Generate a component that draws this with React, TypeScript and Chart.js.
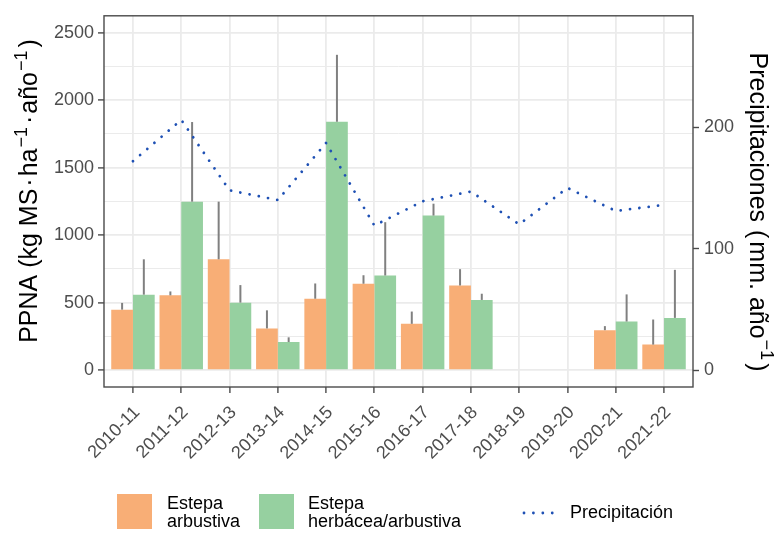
import { useEffect, useRef } from 'react';
import { Chart, registerables } from 'chart.js';

Chart.register(...registerables);

const FONT = "'Liberation Sans', Arial, Helvetica, sans-serif";

// Seasons on the x axis
const seasons = [
  '2010-11', '2011-12', '2012-13', '2013-14', '2014-15', '2015-16',
  '2016-17', '2017-18', '2018-19', '2019-20', '2020-21', '2021-22',
];

// PPNA (kg MS/ha/año): mean and upper error per season
const arbustiva = [448, 554, 821, 309, 529, 640, 343, 627, null, null, 296, 189];
const arbustivaErr = [50, 29, 427, 134, 113, 63, 91, 121, null, null, 30, 186];
const herbacea = [559, 1248, 500, 208, 1840, 701, 1145, 520, null, null, 360, 387];
const herbaceaErr = [262, 590, 130, 35, 496, 395, 88, 46, null, null, 201, 356];

// Annual precipitation (mm)
const precipitacion = [172, 206, 148, 140, 187, 119, 139, 147, 120, 150, 131, 136];

// Axis ticks
const ppnaTicks = [0, 250, 500, 750, 1000, 1250, 1500, 1750, 2000, 2250, 2500];
const precipTicks = [0, 100, 200];

const ORANGE = '#F8AE76';
const GREEN = '#96D0A0';
const BLUE = '#1E50B4';
const ERR = '#808080';
const GRID = '#EBEBEB';
const TICK_TEXT = '#4D4D4D';
const AXIS_LINE = '#4A4A4A';

// secondary axis: 1 mm of precipitation spans 9 PPNA units
const PPNA_MIN = -125;
const PPNA_MAX = 2625;
const FACTOR = 9;

type Part = { t: string; sup?: boolean; gap?: number };

function drawRich(ctx: CanvasRenderingContext2D, parts: Part[], size: number) {
  const base = `${size}px ${FONT}`;
  const small = `${Math.round(size * 0.72)}px ${FONT}`;
  const widths = parts.map((p) => {
    ctx.font = p.sup ? small : base;
    return ctx.measureText(p.t).width + (p.gap || 0);
  });
  const total = widths.reduce((a, b) => a + b, 0);
  let x = -total / 2;
  parts.forEach((p, i) => {
    ctx.font = p.sup ? small : base;
    ctx.fillText(p.t, x, p.sup ? -size * 0.42 : 0);
    x += widths[i];
  });
}

const errorBars = {
  id: 'errorBars',
  afterDatasetDraw(chart: any, args: any) {
    const meta = args.meta;
    if (meta.type !== 'bar') return;
    const errs = args.index === 0 ? arbustivaErr : herbaceaErr;
    const vals = args.index === 0 ? arbustiva : herbacea;
    const y = chart.scales.y;
    const ctx = chart.ctx;
    ctx.save();
    ctx.strokeStyle = ERR;
    ctx.lineWidth = 2;
    meta.data.forEach((bar: any, i: number) => {
      const v = vals[i];
      const e = errs[i];
      if (v == null || e == null) return;
      ctx.beginPath();
      ctx.moveTo(bar.x, y.getPixelForValue(v));
      ctx.lineTo(bar.x, y.getPixelForValue(v + e));
      ctx.stroke();
    });
    ctx.restore();
  },
};

const decorations = {
  id: 'decorations',
  afterDraw(chart: any) {
    const ctx: CanvasRenderingContext2D = chart.ctx;
    const a = chart.chartArea;
    ctx.save();

    // panel border
    ctx.strokeStyle = AXIS_LINE;
    ctx.lineWidth = 1.4;
    ctx.strokeRect(a.left, a.top, a.right - a.left, a.bottom - a.top);

    // axis titles
    ctx.fillStyle = '#000';
    ctx.textAlign = 'left';
    ctx.textBaseline = 'alphabetic';
    ctx.save();
    ctx.translate(37, 191);
    ctx.rotate(-Math.PI / 2);
    drawRich(ctx, [
      { t: 'PPNA (kg MS', gap: 2 }, { t: '·', gap: 2 }, { t: 'ha', gap: 1 }, { t: '−1', sup: true, gap: 3 },
      { t: '·', gap: 2 }, { t: 'año', gap: 1 }, { t: '−1', sup: true, gap: 3 }, { t: ')' },
    ], 25);
    ctx.restore();

    ctx.save();
    ctx.translate(750, 212);
    ctx.rotate(Math.PI / 2);
    drawRich(ctx, [
      { t: 'Precipitaciones ', gap: 1 }, { t: '(', gap: 3 }, { t: 'mm. año', gap: 1 },
      { t: '−1', sup: true, gap: 3 }, { t: ')' },
    ], 25);
    ctx.restore();

    // legend
    const lf = `18px ${FONT}`;
    ctx.fillStyle = ORANGE;
    ctx.fillRect(117, 494, 35, 35);
    ctx.fillStyle = GREEN;
    ctx.fillRect(259, 494, 35, 35);
    ctx.fillStyle = '#000';
    ctx.font = lf;
    ctx.fillText('Estepa', 167, 509);
    ctx.fillText('arbustiva', 167, 527);
    ctx.fillText('Estepa', 308, 509);
    ctx.fillText('herbácea/arbustiva', 308, 527);
    ctx.fillText('Precipitación', 570, 518);

    ctx.strokeStyle = BLUE;
    ctx.lineWidth = 2.8;
    ctx.lineCap = 'round';
    ctx.setLineDash([0.01, 9.4]);
    ctx.beginPath();
    ctx.moveTo(524, 513);
    ctx.lineTo(554, 513);
    ctx.stroke();

    ctx.restore();
  },
};

export default function App() {
  const ref = useRef<HTMLCanvasElement | null>(null);

  useEffect(() => {
    if (!ref.current) return;
    const chart = new Chart(ref.current, {
      type: 'bar',
      data: {
        datasets: [
          {
            type: 'bar',
            label: 'Estepa arbustiva',
            data: arbustiva.map((v, i) => ({ x: i, y: v })) as any,
            backgroundColor: ORANGE,
            borderWidth: 0,
            categoryPercentage: 0.9,
            barPercentage: 1,
            yAxisID: 'y',
            order: 1,
          },
          {
            type: 'bar',
            label: 'Estepa herbácea/arbustiva',
            data: herbacea.map((v, i) => ({ x: i, y: v })) as any,
            backgroundColor: GREEN,
            borderWidth: 0,
            categoryPercentage: 0.9,
            barPercentage: 1,
            yAxisID: 'y',
            order: 1,
          },
          {
            type: 'line',
            label: 'Precipitación',
            data: precipitacion.map((v, i) => ({ x: i, y: v })) as any,
            borderColor: BLUE,
            borderWidth: 2.8,
            borderDash: [0.01, 9.4],
            borderCapStyle: 'round',
            pointRadius: 0,
            tension: 0,
            yAxisID: 'y1',
            order: 0,
          },
        ],
      },
      options: {
        animation: false,
        responsive: false,
        layout: { padding: { top: 15, left: 0, right: 0, bottom: 0 } },
        plugins: { legend: { display: false }, tooltip: { enabled: false } },
        scales: {
          x: {
            type: 'linear',
            bounds: 'data',
            offset: false,
            min: -0.6,
            max: 11.6,
            afterBuildTicks: (s: any) => {
              s.ticks = seasons.map((_, i) => ({ value: i }));
            },
            afterFit: (s: any) => {
              s.height = 146;
            },
            grid: { offset: false, color: GRID, lineWidth: 1.8, tickColor: AXIS_LINE, tickLength: 6, tickWidth: 1.4 },
            border: { display: false },
            ticks: {
              autoSkip: false,
              maxRotation: 45,
              minRotation: 45,
              labelOffset: 4,
              padding: 9,
              color: TICK_TEXT,
              font: { family: FONT, size: 18 },
              callback: (v: any) => seasons[v] ?? '',
            },
          },
          y: {
            type: 'linear',
            position: 'left',
            bounds: 'data',
            min: PPNA_MIN,
            max: PPNA_MAX,
            afterBuildTicks: (s: any) => {
              s.ticks = ppnaTicks.map((v) => ({ value: v }));
            },
            afterFit: (s: any) => {
              s.width = 104;
            },
            grid: {
              color: GRID,
              lineWidth: (c: any) => (c.tick && c.tick.value % 500 === 0 ? 1.8 : 1),
              tickColor: (c: any) => (c.tick && c.tick.value % 500 === 0 ? AXIS_LINE : 'rgba(0,0,0,0)'),
              tickLength: 6,
              tickWidth: 1.4,
            },
            border: { display: false },
            ticks: {
              padding: 4,
              color: TICK_TEXT,
              font: { family: FONT, size: 18 },
              callback: (v: any) => (v % 500 === 0 ? String(v) : ''),
            },
          },
          y1: {
            type: 'linear',
            position: 'right',
            bounds: 'data',
            min: PPNA_MIN / FACTOR,
            max: PPNA_MAX / FACTOR,
            afterBuildTicks: (s: any) => {
              s.ticks = precipTicks.map((v) => ({ value: v }));
            },
            afterFit: (s: any) => {
              s.width = 84;
            },
            grid: { drawOnChartArea: false, tickColor: AXIS_LINE, tickLength: 6, tickWidth: 1.4 },
            border: { display: false },
            ticks: {
              padding: 5,
              color: TICK_TEXT,
              font: { family: FONT, size: 18 },
              callback: (v: any) => String(v),
            },
          },
        },
      },
      plugins: [errorBars, decorations],
    });
    return () => chart.destroy();
  }, []);

  return (
    <div style={{ position: 'fixed', left: 0, top: 0, width: 777, height: 533, background: '#fff' }}>
      <canvas ref={ref} width={777} height={533} />
    </div>
  );
}
